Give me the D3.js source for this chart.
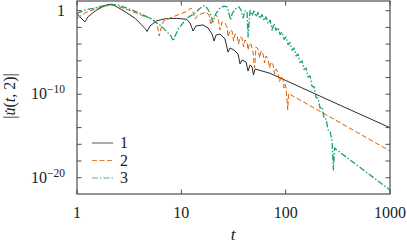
<!DOCTYPE html>
<html><head><meta charset="utf-8">
<script src="https://cdn.jsdelivr.net/npm/d3@7"></script>
<style>body{margin:0;background:#fff}svg{display:block}
svg text, svg tspan{font-family:"Liberation Serif", serif !important}</style>
</head><body><svg id="c" width="407" height="243" font-family="Liberation Serif"></svg>
<script>
// series: [t, |u'(t,2)|]
const series1 = [[1,0.46],[1.09,0.135],[1.19,0.045],[1.27,0.18],[1.49,0.91],[1.73,2.6],[1.98,5.9],[2.31,4.0],[2.89,0.76],[3.6,0.123],[4.17,0.0195],[4.49,0.0074],[4.69,0.0032],[5.01,0.015],[5.81,0.063],[6.98,0.107],[9.03,0.123],[11.27,0.093],[12.12,0.034],[12.95,0.0037],[13.8,0.015],[16.15,0.0195],[18.03,0.0085],[19.7,0.0016],[20.59,2.3e-4],[21.5,1.2e-3],[23.5,1.6e-3],[26.24,4.1e-4],[28.04,1.1e-5],[29.31,3.4e-5],[32.0,1.95e-5],[34.97,6.5e-6],[36.54,4.2e-7],[38.19,1.26e-6],[41.7,7.2e-7],[43.6,6e-8],[45.58,3.2e-7],[47.64,1.8e-7],[49.2,2e-8],[50.88,1.05e-7],[70.86,3.2e-8],[266.6,1.66e-11],[1000,9.8e-15]];
const series2 = [[1,0.123],[1.19,0.52],[1.49,1.6],[1.86,3.6],[2.15,4.8],[2.58,2.8],[3.22,1.05],[4.17,0.27],[5.35,0.10],[5.85,0.026],[6.15,9.3e-4],[6.39,8.5e-3],[6.75,0.059],[8.33,0.19],[11.27,0.8],[12.39,2.1],[12.95,0.69],[13.53,0.10],[14.5,0.31],[17.25,0.69],[18.4,0.31],[19.27,0.0195],[20.14,0.135],[21.5,0.31],[22.48,0.135],[23.5,4.9e-3],[24.56,0.045],[26.24,0.034],[27.43,0.011],[28.04,7e-4],[29.31,4.9e-3],[30.63,3.7e-3],[31.7,2.3e-4],[32.73,1.6e-3],[34.2,1.2e-3],[35.3,1e-4],[36.54,7e-4],[38.19,5.4e-4],[39.5,4.5e-5],[40.8,3.1e-4],[42.65,1.8e-4],[43.6,1.95e-5],[45.1,1.35e-4],[46.6,1e-4],[48.68,1.1e-5],[50.3,1.4e-7],[52.0,4.5e-5],[54.4,2.6e-5],[56.2,2.2e-6],[58.1,1.5e-5],[60.73,6.5e-6],[62.8,5.5e-7],[64.9,3.7e-6],[67.8,1.65e-6],[70.1,1.4e-7],[72.4,7.2e-7],[75.72,3.2e-7],[78.3,2.6e-8],[80.9,1.05e-7],[84.6,3.5e-8],[87.4,2.9e-9],[90.3,1.5e-8],[94.43,5e-9],[96.5,5.5e-10],[98.7,1.66e-9],[100.9,5.5e-10],[104.7,1.3e-12],[106.6,1.2e-10],[137.4,2e-11],[1000,1.6e-17]];
const series3 = [[1,0.46],[1.19,1.2],[1.49,2.1],[2.07,6.3],[2.58,4.2],[3.35,1.2],[4.02,0.49],[5.2,0.093],[6.25,0.0195],[7.24,3.1e-3],[7.96,9.3e-4],[8.38,2.3e-4],[8.8,1.2e-3],[9.36,6.5e-3],[11.27,0.123],[13.53,0.52],[15.11,1.95],[16.5,4.0],[17.64,2.1],[18.84,0.52],[20.14,0.045],[21.3,0.40],[23.5,2.1],[25.7,3.6],[27.43,2.8],[28.7,0.40],[29.6,0.078],[30.63,0.40],[32.73,1.6],[35.7,2.8],[37.4,1.2],[39.04,0.135],[40.8,0.91],[42.65,0.91],[43.6,7e-4],[45.58,1.06],[47.64,0.252],[49.77,0.92],[52.02,0.186],[54.37,0.61],[56.84,0.116],[59.4,0.35],[62.09,0.063],[64.89,0.176],[67.82,0.029],[70.86,0.077],[74.06,4.9e-3],[77.41,0.029],[80.91,4.3e-3],[84.56,9.7e-3],[88.39,1.34e-3],[92.37,2.8e-3],[96.54,3.6e-4],[100.9,7.1e-4],[105.4,8.5e-5],[110.2,1.56e-4],[115.2,1.86e-5],[120.4,3.4e-5],[125.8,3.8e-6],[131.5,6.5e-6],[137.4,6.3e-7],[143.6,9.5e-7],[150.1,9.1e-8],[156.9,1.37e-7],[164.0,1.15e-8],[171.4,1.51e-8],[179.1,8.4e-10],[187.3,7.3e-10],[195.7,4.0e-11],[204.5,3.5e-11],[213.7,2.2e-12],[223.4,2.9e-12],[233.4,1.23e-13],[244.0,1.07e-13],[255.0,5.2e-15],[266.6,3.9e-15],[278.6,1.9e-16],[286.7,8.5e-20],[294.4,3.6e-17],[309.0,2.1e-17],[1000,3.4e-22]];
const seriesNames = ["1","2","3"];
const xTicks = [1,10,100,1000];
const xTickLabels = ["1","10","100","1000"];
const yTickExps = [0,-2,-4,-6,-8,-10,-12,-14,-16,-18,-20];
const yLabelExps = [0,-10,-20];

const svg = d3.select("#c");
const L = 77, R = 390, T = 1, B = 194;
const x = d3.scaleLog().domain([1,1000]).range([L,R]);
const y = d3.scaleLog().domain([Math.pow(10,-21.95), Math.pow(10,1.162)]).range([B,T]);
const colors = ["#2b2b2b","#d95f02","#1b9e77"];
const dashes = [null,"5,2.5","6,2,1.5,2"];
const widths = [1,1,1.3];

const g = svg.append("g");
const line = d3.line().x(d=>x(d[0])).y(d=>y(d[1]));
[series1,series2,series3].forEach((s,i)=>{
  g.append("path").datum(s).attr("d",line).attr("fill","none")
   .attr("stroke",colors[i]).attr("stroke-width",widths[i])
   .attr("stroke-dasharray",dashes[i]).attr("stroke-linejoin","round");
});

// frame
svg.append("rect").attr("x",L).attr("y",T).attr("width",R-L).attr("height",B-T)
  .attr("fill","none").attr("stroke","#4d4d4d").attr("stroke-width",1.2);

const tk = 4.5;
const yt = yTickExps.map(e=>Math.pow(10,e));
const ax = svg.append("g").attr("stroke","#4d4d4d").attr("stroke-width",1);
xTicks.forEach(v=>{
  ax.append("line").attr("x1",x(v)).attr("x2",x(v)).attr("y1",B).attr("y2",B-tk);
  ax.append("line").attr("x1",x(v)).attr("x2",x(v)).attr("y1",T).attr("y2",T+tk);
});
yt.forEach(v=>{
  ax.append("line").attr("x1",L).attr("x2",L+tk).attr("y1",y(v)).attr("y2",y(v));
  ax.append("line").attr("x1",R).attr("x2",R-tk).attr("y1",y(v)).attr("y2",y(v));
});

function txt(sel){
  sel.node().setAttribute("style","font-family:'Liberation Serif' !important");
  return sel.attr("font-family","Liberation Serif").attr("fill","#222");
}

// x tick labels
xTicks.forEach((v,i)=>{
  txt(svg.append("text")).attr("x",x(v)).attr("y",218).attr("text-anchor","middle")
    .attr("font-size",16).text(xTickLabels[i]);
});
// y tick labels
yLabelExps.forEach(e=>{
  const t = txt(svg.append("text")).attr("x",65).attr("y",y(Math.pow(10,e))+5).attr("text-anchor","end")
    .attr("font-size",16);
  if(e===0){ t.text("1"); }
  else {
    t.append("tspan").text("10");
    t.append("tspan").attr("dy",-6).attr("font-size",11.5).text("\u2212"+Math.abs(e));
  }
});
// axis titles
txt(svg.append("text")).attr("x",233).attr("y",240).attr("text-anchor","middle")
  .attr("font-style","italic").attr("font-size",17).text("t");
const yl = txt(svg.append("text")).attr("transform","translate(15,96) rotate(-90)").attr("text-anchor","middle")
  .attr("font-size",16);
yl.append("tspan").text("|");
yl.append("tspan").attr("font-style","italic").text("u\u0307");
yl.append("tspan").text("(");
yl.append("tspan").attr("font-style","italic").text("t");
yl.append("tspan").text(", 2)|");

// legend
seriesNames.forEach((n,i)=>{
  const yy = 143 + i*17.5;
  svg.append("line").attr("x1",92).attr("x2",113).attr("y1",yy).attr("y2",yy)
    .attr("stroke",colors[i]).attr("stroke-width",1).attr("stroke-opacity",0.8)
    .attr("stroke-dasharray",dashes[i]);
  txt(svg.append("text")).attr("x",120).attr("y",yy+5).attr("font-size",16).text(n);
});
</script></body></html>
